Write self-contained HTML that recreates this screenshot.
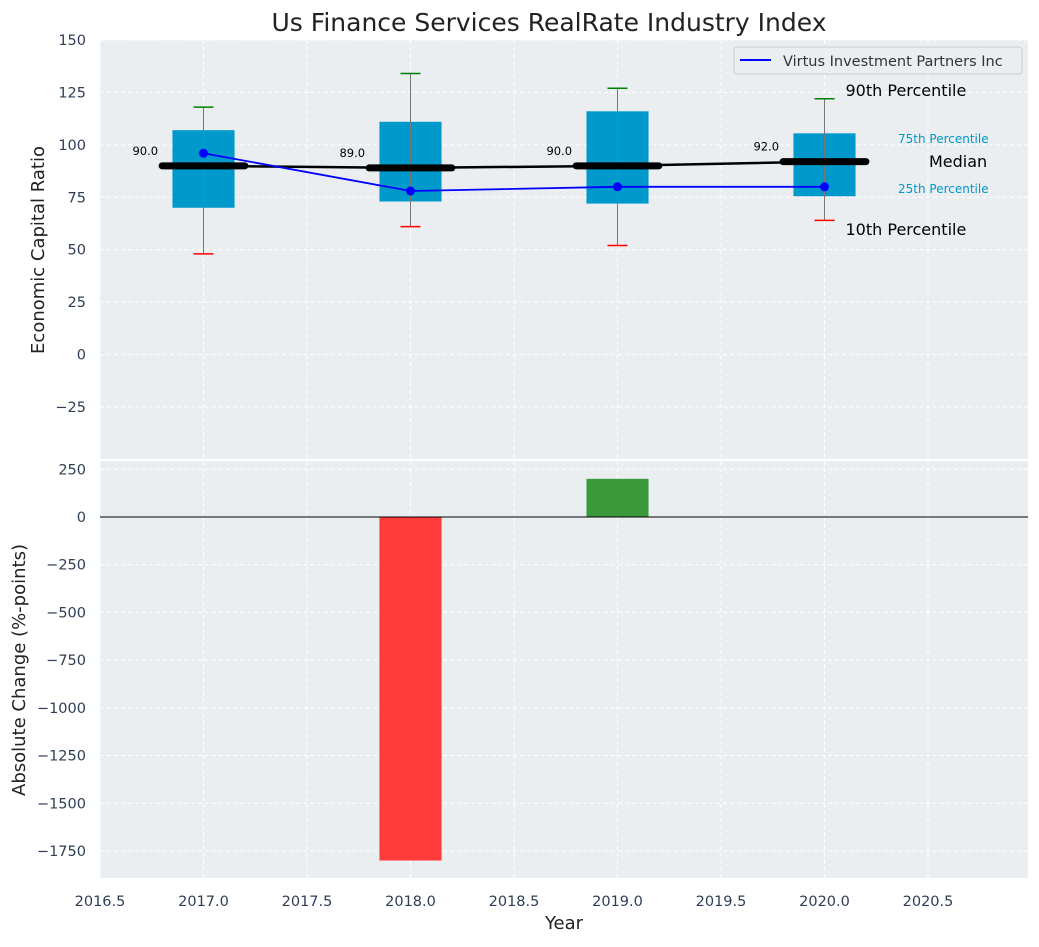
<!DOCTYPE html>
<html><head><meta charset="utf-8"><style>
body{margin:0;background:#fff;}
svg text{font-family:"DejaVu Sans","Liberation Sans",sans-serif;}
</style></head><body>
<svg id="chart" width="1039" height="942" xmlns="http://www.w3.org/2000/svg"></svg>
<script>
const years=[2017,2018,2019,2020];
const p10=[48,61,52,64];
const q1=[70,73,72,75.5];
const medians=[90,89,90,92];
const q3=[107,111,116,105.5];
const p90=[118,134,127,122];
const company=[96,78,80,80];
const changes=[0,-1800,200,0];
const xTicks=[2016.5,2017,2017.5,2018,2018.5,2019,2019.5,2020,2020.5];
const yTopTicks=[-25,0,25,50,75,100,125,150];
const yBotTicks=[-1750,-1500,-1250,-1000,-750,-500,-250,0,250];

const NS="http://www.w3.org/2000/svg";
const svg=document.getElementById('chart');
function el(t,a,p){const e=document.createElementNS(NS,t);for(const k in a)e.setAttribute(k,a[k]);(p||svg).appendChild(e);return e;}
const L=100,R=1028;
const X=v=>L+(v-2016.5)*207;
const T0=40,T1=459,B0=461,B1=878;
const YT=v=>40+(150-v)*2.0972;
const YB=v=>517-v*0.19084;

let e=el('rect',{x:L,y:T0,width:R-L,height:T1-T0,fill:'#eaeef0'});

e=el('rect',{x:L,y:B0,width:R-L,height:B1-B0,fill:'#eaeef0'});


xTicks.forEach(t=>{
  el('line',{x1:X(t),x2:X(t),y1:T0,y2:T1,stroke:'#fff','stroke-dasharray':'4,3','stroke-width':1});
  el('line',{x1:X(t),x2:X(t),y1:B0,y2:B1,stroke:'#fff','stroke-dasharray':'4,3','stroke-width':1});
  const tx=el('text',{x:X(t),y:906,'text-anchor':'middle','font-size':14.5,fill:'#2f3e55'});tx.textContent=t.toFixed(1);
  
});
yTopTicks.forEach(t=>{
  el('line',{x1:L,x2:R,y1:YT(t),y2:YT(t),stroke:'#fff','stroke-dasharray':'4,3'});
  const tx=el('text',{x:86,y:YT(t)+5,'text-anchor':'end','font-size':14.5,fill:'#2f3e55'});tx.textContent=t<0?'\u2212'+(-t):t;
  
});
yBotTicks.forEach(t=>{
  el('line',{x1:L,x2:R,y1:YB(t),y2:YB(t),stroke:'#fff','stroke-dasharray':'4,3'});
  const tx=el('text',{x:86,y:YB(t)+5,'text-anchor':'end','font-size':14.5,fill:'#2f3e55'});tx.textContent=t<0?'\u2212'+(-t):t;
  
});

years.forEach((y,i)=>{
  const cx=X(y),w=0.3*207;
  const b=el('rect',{x:cx-w/2,y:YT(q3[i]),width:w,height:YT(q1[i])-YT(q3[i]),fill:'#0099cc'});
  
  el('line',{x1:cx,x2:cx,y1:YT(p90[i]),y2:YT(p10[i]),stroke:'#777','stroke-width':1});
  el('line',{x1:cx-10,x2:cx+10,y1:YT(p90[i]),y2:YT(p90[i]),stroke:'green','stroke-width':1.5});
  el('line',{x1:cx-10,x2:cx+10,y1:YT(p10[i]),y2:YT(p10[i]),stroke:'red','stroke-width':1.5});
});
let pts=years.map((y,i)=>X(y)+','+YT(medians[i])).join(' ');
e=el('polyline',{points:pts,fill:'none',stroke:'#000','stroke-width':2.5});

years.forEach((y,i)=>{
  const cx=X(y);
  const m=el('line',{x1:cx-0.2*207,x2:cx+0.2*207,y1:YT(medians[i]),y2:YT(medians[i]),stroke:'#000','stroke-width':7,'stroke-linecap':'round'});
  
  const t=el('text',{x:cx-0.2*207-4,y:YT(medians[i])-11,'text-anchor':'end','font-size':11.5,fill:'#000'});t.textContent=medians[i].toFixed(1);
  
});
pts=years.map((y,i)=>X(y)+','+YT(company[i])).join(' ');
e=el('polyline',{points:pts,fill:'none',stroke:'#0000ff','stroke-width':1.8});

years.forEach((y,i)=>{const c=el('circle',{cx:X(y),cy:YT(company[i]),r:4.5,fill:'#0000ff'});
  });

const lx=X(2020)+21;
[['90th Percentile',96,16,'#000',lx],['10th Percentile',235,16,'#000',lx],
 ['75th Percentile',143,12,'#0099cc',898],['25th Percentile',193,12,'#0099cc',898],
 ['Median',167,16,'#000',929]].forEach(a=>{
  const t=el('text',{x:a[4],y:a[1],'font-size':a[2],fill:a[3]});t.textContent=a[0];
  
});

const lg=el('g',{});
el('rect',{x:734,y:47,width:288,height:27,rx:3,fill:'#eaeef0',stroke:'#ccc'},lg);
el('line',{x1:740,x2:771,y1:60,y2:60,stroke:'#0000ff','stroke-width':2},lg);
e=el('text',{x:783,y:66,'font-size':14.5,fill:'#333'},lg);e.textContent='Virtus Investment Partners Inc';

years.forEach((y,i)=>{
  if(!changes[i])return;
  const v=changes[i],w=0.3*207;
  const r=el('rect',{x:X(y)-w/2,y:Math.min(YB(v),YB(0)),width:w,height:Math.abs(YB(v)-YB(0)),fill:v<0?'#ff3b3b':'#3a9a3a'});
  
});
el('line',{x1:L,x2:R,y1:YB(0),y2:YB(0),stroke:'#000','stroke-width':1});

e=el('text',{x:549,y:31,'text-anchor':'middle','font-size':25,fill:'#222'});e.textContent='Us Finance Services RealRate Industry Index';

e=el('text',{x:564,y:929,'text-anchor':'middle','font-size':18,fill:'#222'});e.textContent='Year';

e=el('text',{x:0,y:0,'text-anchor':'middle','font-size':18,fill:'#222',transform:'translate(44,250) rotate(-90)'});e.textContent='Economic Capital Ratio';

e=el('text',{x:0,y:0,'text-anchor':'middle','font-size':18,fill:'#222',transform:'translate(25,670) rotate(-90)'});e.textContent='Absolute Change (%-points)';

</script>
</body></html>
